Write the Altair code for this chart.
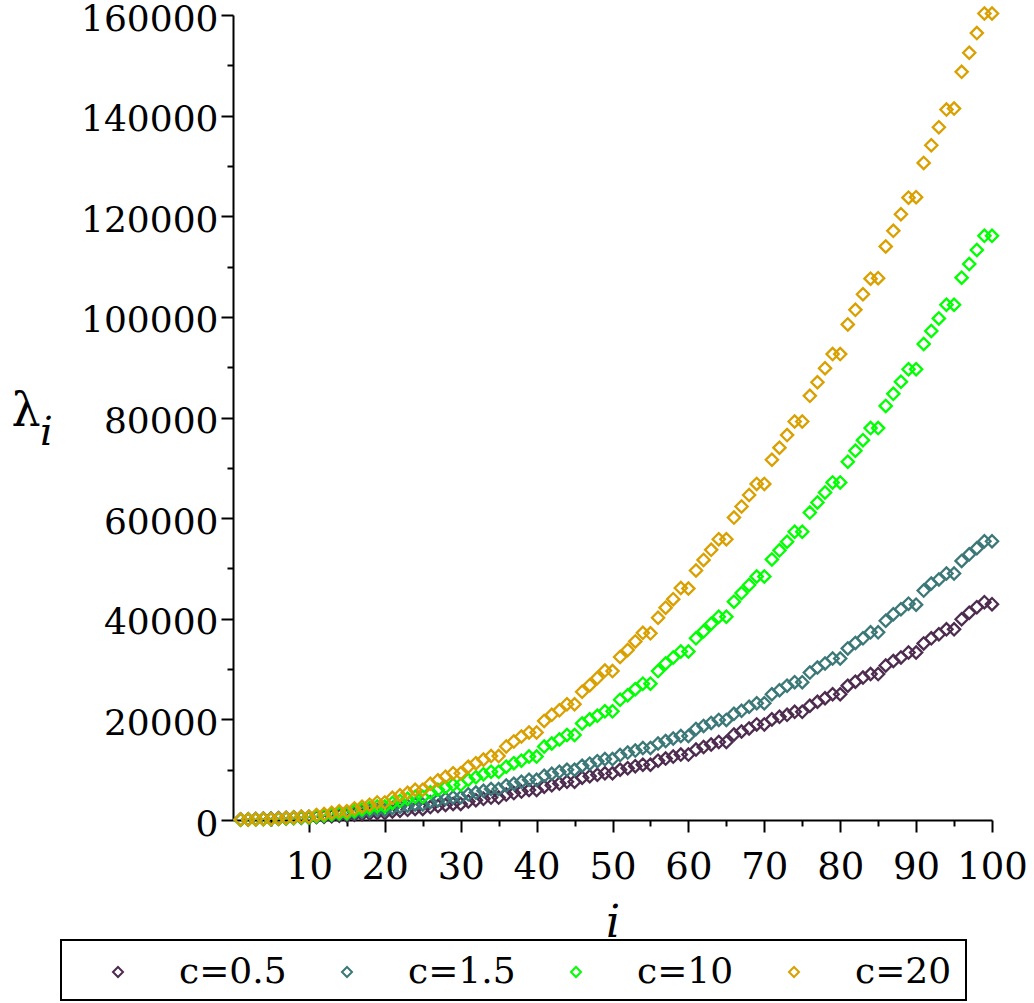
import altair as alt
import pandas as pd

# index i = 1..100
idx = list(range(1, 101))
labels = ["c=0.5", "c=1.5", "c=10", "c=20"]
colors = ["#4E2C50", "#3D7878", "#00FF00", "#D9A000"]

c05 = [80, 110, 150, 190, 190, 270, 320, 380, 440, 440,
       580, 660, 750, 840, 840, 1040, 1150, 1270, 1400, 1400,
       1690, 1850, 2020, 2200, 2200, 2570, 2770, 2980, 3200, 3200,
       3700, 3950, 4200, 4450, 4450, 5050, 5350, 5650, 5950, 5950,
       6600, 6900, 7250, 7600, 7600, 8400, 8700, 9000, 9300, 9300,
       10000, 10300, 10700, 11000, 11000, 11800, 12200, 12600, 13000, 13000,
       14000, 14500, 15000, 15500, 15500, 17000, 17600, 18200, 19000, 19000,
       20000, 20500, 20900, 21500, 21500, 22700, 23500, 24200, 25000, 25000,
       26700, 27500, 28300, 29000, 29000, 30700, 31600, 32300, 33300, 33300,
       35100, 36100, 36900, 37900, 37900, 39900, 41200, 42300, 43300, 42900]

c15 = [120, 170, 220, 280, 280, 400, 470, 550, 640, 640,
       840, 950, 1070, 1200, 1200, 1480, 1650, 1820, 2000, 2000,
       2400, 2620, 2850, 3100, 3100, 3600, 3900, 4200, 4500, 4500,
       5100, 5450, 5800, 6150, 6150, 6850, 7200, 7600, 8000, 8000,
       8800, 9200, 9600, 10000, 10000, 10800, 11200, 11700, 12100, 12100,
       12900, 13400, 13800, 14300, 14300, 15200, 15700, 16200, 16700, 16700,
       18100, 18700, 19300, 19900, 19900, 21100, 21700, 22500, 23200, 23200,
       25000, 25800, 26700, 27400, 27400, 29300, 30300, 31100, 32100, 32100,
       34100, 35200, 36100, 37300, 37300, 39600, 40900, 41900, 43000, 42800,
       45600, 47000, 47800, 49000, 49000, 51500, 52800, 54000, 55400, 55400]

c10 = [60, 90, 120, 170, 170, 250, 320, 400, 500, 500,
       750, 900, 1100, 1350, 1350, 1800, 2100, 2400, 2700, 2700,
       3400, 3800, 4200, 4600, 4600, 5500, 6000, 6500, 7000, 7000,
       8000, 8500, 9100, 9600, 9600, 10600, 11300, 11800, 12600, 12600,
       14600, 15200, 16000, 16900, 16900, 19200, 20000, 20700, 21600, 21600,
       23900, 24800, 26000, 27100, 27100, 29600, 31100, 32300, 33500, 33500,
       36100, 37500, 39000, 40400, 40400, 43400, 45100, 46700, 48400, 48400,
       51800, 53600, 55300, 57300, 57300, 61100, 63100, 65100, 67100, 67100,
       71200, 73400, 75500, 77900, 77900, 82300, 84700, 87100, 89600, 89600,
       94600, 97200, 99700, 102400, 102400, 107800, 110500, 113300, 116100, 116100]

c20 = [80, 110, 150, 200, 200, 320, 400, 500, 650, 650,
       1000, 1200, 1450, 1750, 1750, 2300, 2650, 3050, 3500, 3500,
       4400, 4900, 5400, 6000, 6000, 7200, 7900, 8600, 9300, 9300,
       10600, 11300, 12000, 12700, 12700, 14600, 15600, 16600, 17400, 17400,
       19700, 20900, 21800, 23000, 23000, 25500, 26800, 28200, 29700, 29600,
       32400, 33800, 35500, 37200, 37100, 40200, 42200, 43900, 46100, 46000,
       49600, 51700, 53700, 55800, 55800, 60100, 62300, 64600, 66800, 66800,
       71600, 74000, 76500, 79200, 79200, 84300, 87000, 89800, 92600, 92600,
       98500, 101400, 104500, 107600, 107700, 114000, 117100, 120400, 123700, 123800,
       130600, 134100, 137700, 141200, 141400, 148700, 152500, 156400, 160300, 160300]

x_tick_values = [5, 10, 15, 20, 25, 30, 35, 40, 45, 50, 55, 60, 65, 70, 75, 80, 85, 90, 95, 100]
y_tick_values = [0, 10000, 20000, 30000, 40000, 50000, 60000, 70000, 80000,
                 90000, 100000, 110000, 120000, 130000, 140000, 150000, 160000]

rows = []
for lab, vals in zip(labels, [c05, c15, c10, c20]):
    for k, v in zip(idx, vals):
        rows.append({"i": k, "lam": v, "series": lab})
df = pd.DataFrame(rows)

FONT = "DejaVu Serif"
W, H = 759, 805

points = alt.Chart(df).mark_point(
    shape="diamond", filled=False, size=150, strokeWidth=2.3, opacity=1
).encode(
    x=alt.X("i:Q",
            scale=alt.Scale(domain=[0, 100], nice=False, zero=False),
            axis=alt.Axis(values=x_tick_values,
                          labelExpr="datum.value % 10 === 0 ? datum.label : ''",
                          tickSize={"condition": {"test": "datum.value % 10 === 0", "value": 12}, "value": 6},
                          labelPadding=17, labelFont=FONT, labelFontSize=37, labelColor="black",
                          labelFlush=False, labelOverlap=False,
                          tickColor="black", tickWidth=2, domainColor="black", domainWidth=2,
                          grid=False, title="i", titleFont=FONT, titleFontSize=44,
                          titleFontStyle="italic", titleFontWeight="normal", titleColor="black",
                          titleBaseline="alphabetic", titleY=116)),
    y=alt.Y("lam:Q",
            scale=alt.Scale(domain=[0, 160000], nice=False),
            axis=alt.Axis(values=y_tick_values, format="d",
                          labelExpr="datum.value % 20000 === 0 ? datum.label : ''",
                          tickSize={"condition": {"test": "datum.value % 20000 === 0", "value": 12}, "value": 6},
                          labelPadding=3, labelOffset=4, labelFont=FONT, labelFontSize=36, labelColor="black",
                          labelFlush=False, labelOverlap=False,
                          tickColor="black", tickWidth=2, domainColor="black", domainWidth=2,
                          grid=False, title="λ", titleFont=FONT, titleFontSize=46,
                          titleFontWeight="normal", titleColor="black", titleAngle=0,
                          titleAlign="left", titleBaseline="alphabetic", titleX=-222, titleY=410)),
    color=alt.Color("series:N",
                    scale=alt.Scale(domain=labels, range=colors),
                    legend=alt.Legend(orient="none", legendX=-133, legendY=939,
                                      direction="horizontal", title=None, gridAlign="none",
                                      symbolType="diamond", symbolSize=100, symbolStrokeWidth=2,
                                      labelFont=FONT, labelFontSize=36, labelColor="black",
                                      labelOffset=43, columnPadding=42, padding=0)),
)

one = pd.DataFrame({"k": [0]})

subscript = alt.Chart(one).mark_text(
    text="i", font=FONT, fontSize=40, fontStyle="italic", align="left", baseline="alphabetic", color="black"
).encode(x=alt.value(-193), y=alt.value(430))

legend_box = alt.Chart(one).mark_rect(
    fill="white", fillOpacity=0, stroke="black", strokeWidth=2
).encode(x=alt.value(-172), x2=alt.value(733), y=alt.value(925), y2=alt.value(985))

chart = alt.layer(legend_box, points, subscript).properties(
    width=W, height=H, background="white",
    autosize=alt.AutoSizeParams(type="none"),
    padding={"left": 233, "top": 15, "right": 42, "bottom": 183},
).configure_view(stroke=None)

chart.save("out.html", embed_options={"renderer": "svg", "actions": False})
